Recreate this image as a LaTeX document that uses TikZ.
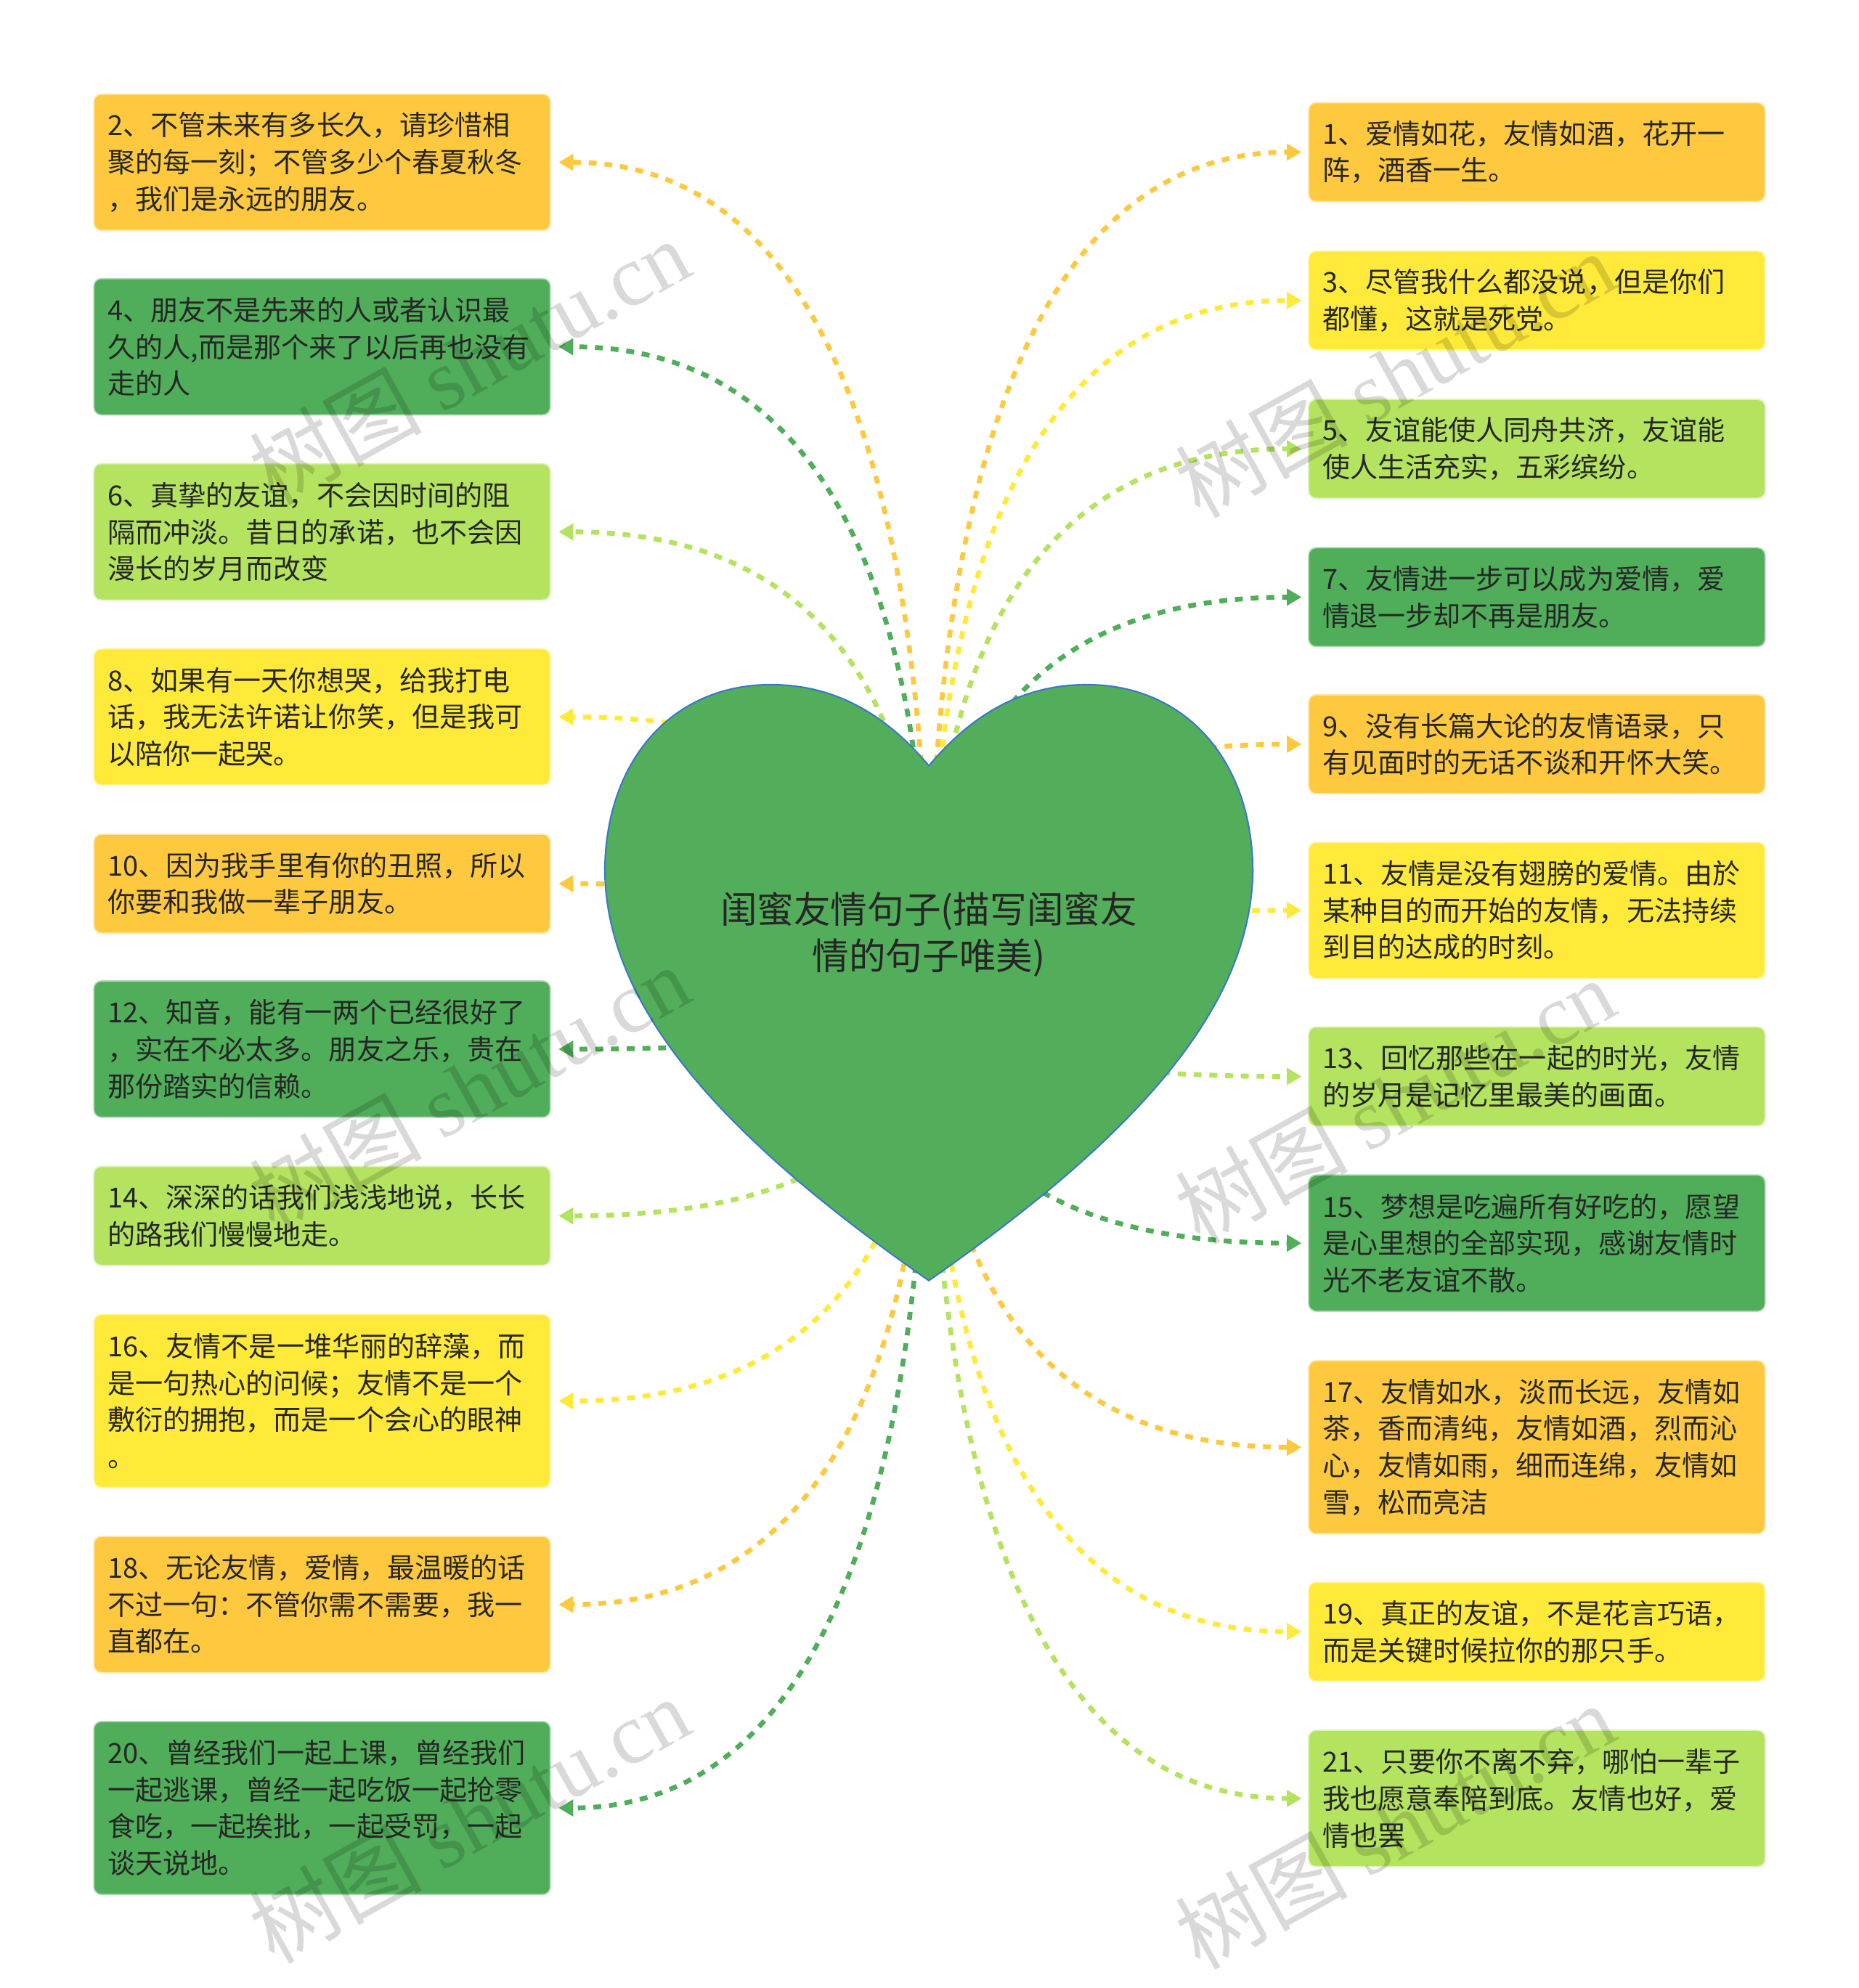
\documentclass[tikz,border=0pt]{standalone}
\usepackage{fontspec}
\setmainfont{Noto Sans CJK SC}
\newfontfamily\wmlat{Liberation Serif}
\usetikzlibrary{arrows.meta,calc}
\definecolor{corange}{HTML}{FEC93F}
\definecolor{cyellow}{HTML}{FFEA3A}
\definecolor{clight}{HTML}{B3E35F}
\definecolor{cdark}{HTML}{50AD5A}
\definecolor{ctext}{HTML}{262626}
\definecolor{cheart}{HTML}{52AE5A}
\definecolor{cborder}{HTML}{3B78C8}
\tikzset{
  box/.style={rectangle, rounded corners=3pt, fill=#1, draw=#1!45!white, line width=0.5pt,
    minimum width=180pt, text width=169pt, inner xsep=5.5pt, inner ysep=0pt, align=left,
    text=ctext, font=\fontsize{10.9pt}{14.5pt}\selectfont},
  h2/.style={minimum height=39pt},
  h3/.style={minimum height=53.75pt},
  h4/.style={minimum height=68.25pt},
  link/.style={draw=#1, dash pattern=on 3.1pt off 3.1pt, line width=1.9pt,
    -{Triangle[length=5.8pt,width=6.4pt,fill=#1]}},
  wm/.style={text=black, text opacity=0.15, font=\fontsize{34pt}{34pt}\selectfont, rotate=29, inner sep=0pt},
}
\newcommand\linkL[2]{\coordinate (e#1) at ($(b#1.east)+(6,0)$);
  \draw[link=#2] (hc) .. controls ($(hc)!2/3!(hc |- e#1)$) and ($(e#1)!2/3!(hc |- e#1)$) .. (e#1);}
\newcommand\linkR[2]{\coordinate (e#1) at ($(b#1.west)+(-5,0)$);
  \draw[link=#2] (hc) .. controls ($(hc)!2/3!(hc |- e#1)$) and ($(e#1)!2/3!(hc |- e#1)$) .. (e#1);}
\begin{document}
\begin{tikzpicture}[x=0.5pt,y=-0.5pt]
\useasboundingbox (0,0) rectangle (1466,1568);
\fill[white] (0,0) rectangle (1466,1568);
% left column
\node[box=corange,h3] (b2) at (254,128) {2、不管未来有多长久，请珍惜相\\聚的每一刻；不管多少个春夏秋冬\\，我们是永远的朋友。};
\node[box=cdark,h3] (b4) at (254,273.5) {4、朋友不是先来的人或者认识最\\久的人,而是那个来了以后再也没有\\走的人};
\node[box=clight,h3] (b6) at (254,419.5) {6、真挚的友谊，不会因时间的阻\\隔而冲淡。昔日的承诺，也不会因\\漫长的岁月而改变};
\node[box=cyellow,h3] (b8) at (254,565.5) {8、如果有一天你想哭，给我打电\\话，我无法许诺让你笑，但是我可\\以陪你一起哭。};
\node[box=corange,h2] (b10) at (254,697) {10、因为我手里有你的丑照，所以\\你要和我做一辈子朋友。};
\node[box=cdark,h3] (b12) at (254,827.5) {12、知音，能有一两个已经很好了\\，实在不必太多。朋友之乐，贵在\\那份踏实的信赖。};
\node[box=clight,h2] (b14) at (254,959) {14、深深的话我们浅浅地说，长长\\的路我们慢慢地走。};
\node[box=cyellow,h4] (b16) at (254,1105) {16、友情不是一堆华丽的辞藻，而\\是一句热心的问候；友情不是一个\\敷衍的拥抱，而是一个会心的眼神\\。};
\node[box=corange,h3] (b18) at (254,1265.5) {18、无论友情，爱情，最温暖的话\\不过一句：不管你需不需要，我一\\直都在。};
\node[box=cdark,h4] (b20) at (254,1426) {20、曾经我们一起上课，曾经我们\\一起逃课，曾经一起吃饭一起抢零\\食吃，一起挨批，一起受罚，一起\\谈天说地。};
% right column
\node[box=corange,h2] (b1) at (1212,120) {1、爱情如花，友情如酒，花开一\\阵，酒香一生。};
\node[box=cyellow,h2] (b3) at (1212,237) {3、尽管我什么都没说，但是你们\\都懂，这就是死党。};
\node[box=clight,h2] (b5) at (1212,354) {5、友谊能使人同舟共济，友谊能\\使人生活充实，五彩缤纷。};
\node[box=cdark,h2] (b7) at (1212,471) {7、友情进一步可以成为爱情，爱\\情退一步却不再是朋友。};
\node[box=corange,h2] (b9) at (1212,587) {9、没有长篇大论的友情语录，只\\有见面时的无话不谈和开怀大笑。};
\node[box=cyellow,h3] (b11) at (1212,718) {11、友情是没有翅膀的爱情。由於\\某种目的而开始的友情，无法持续\\到目的达成的时刻。};
\node[box=clight,h2] (b13) at (1212,849) {13、回忆那些在一起的时光，友情\\的岁月是记忆里最美的画面。};
\node[box=cdark,h3] (b15) at (1212,980.5) {15、梦想是吃遍所有好吃的，愿望\\是心里想的全部实现，感谢友情时\\光不老友谊不散。};
\node[box=corange,h4] (b17) at (1212,1141.5) {17、友情如水，淡而长远，友情如\\茶，香而清纯，友情如酒，烈而沁\\心，友情如雨，细而连绵，友情如\\雪，松而亮洁};
\node[box=cyellow,h2] (b19) at (1212,1287) {19、真正的友谊，不是花言巧语，\\而是关键时候拉你的那只手。};
\node[box=clight,h3] (b21) at (1212,1418.5) {21、只要你不离不弃，哪怕一辈子\\我也愿意奉陪到底。友情也好，爱\\情也罢};
% connectors
\coordinate (hc) at (732.5,775);
\linkL{2}{corange}\linkL{4}{cdark}\linkL{6}{clight}\linkL{8}{cyellow}\linkL{10}{corange}
\linkL{12}{cdark}\linkL{14}{clight}\linkL{16}{cyellow}\linkL{18}{corange}\linkL{20}{cdark}
\linkR{1}{corange}\linkR{3}{cyellow}\linkR{5}{clight}\linkR{7}{cdark}\linkR{9}{corange}
\linkR{11}{cyellow}\linkR{13}{clight}\linkR{15}{cdark}\linkR{17}{corange}\linkR{19}{cyellow}\linkR{21}{clight}
% heart
\filldraw[fill=cheart, draw=cborder, line width=0.6pt]
  (732.5,604) .. controls (700,565) and (660,540) .. (608,540)
  .. controls (530,540) and (477,600) .. (477,688)
  .. controls (479,790) and (560,890) .. (732.5,1010)
  .. controls (905,890) and (986,790) .. (988,688)
  .. controls (988,600) and (935,540) .. (857,540)
  .. controls (805,540) and (765,565) .. cycle;
\node[font=\fontsize{14.5pt}{18.5pt}\selectfont, text=ctext, align=center] (root) at (732.5,737) {闺蜜友情句子(描写闺蜜友\\情的句子唯美)};
% watermarks
\node[wm] (w1) at (370,285) {树图 {\wmlat shutu.cn}};
\node[wm] (w2) at (370,858) {树图 {\wmlat shutu.cn}};
\node[wm] (w3) at (370,1435) {树图 {\wmlat shutu.cn}};
\node[wm] (w4) at (1100,295) {树图 {\wmlat shutu.cn}};
\node[wm] (w5) at (1100,868) {树图 {\wmlat shutu.cn}};
\node[wm] (w6) at (1100,1440) {树图 {\wmlat shutu.cn}};
\end{tikzpicture}
\end{document}
